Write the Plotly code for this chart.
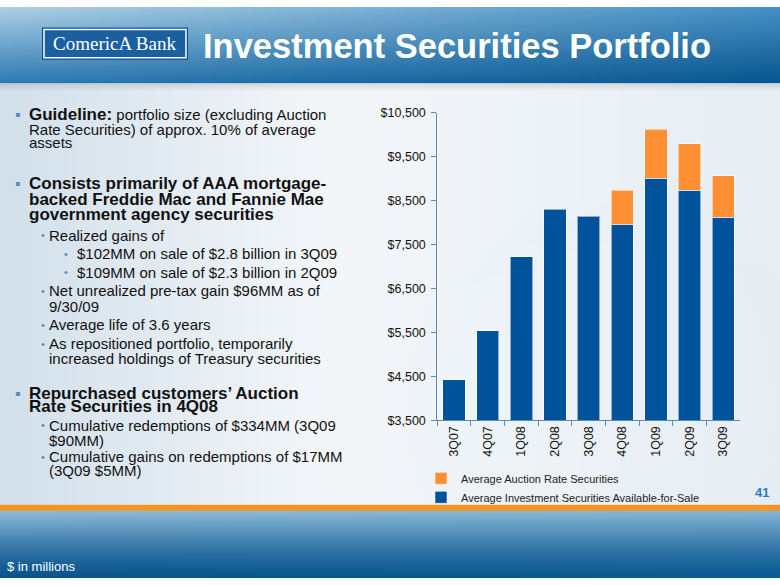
import numpy as np, zlib, struct, base64
import plotly.graph_objects as go

# ---------------- data ----------------
quarters = ["3Q07", "4Q07", "1Q08", "2Q08", "3Q08", "4Q08", "1Q09", "2Q09", "3Q09"]
afs_values = [4420, 5540, 7225, 8300, 8145, 7960, 9010, 8730, 8115]
ars_values = [None, None, None, None, None, 770, 1110, 1060, 955]
y_ticks = [3500, 4500, 5500, 6500, 7500, 8500, 9500, 10500]
y_tick_labels = ["$" + format(v, ",") for v in y_ticks]

W, H = 780, 585

# ---------------- background image (gradients, no text) ----------------
def hexrgb(h):
    h = h.lstrip('#')
    return np.array([int(h[i:i + 2], 16) for i in (0, 2, 4)], dtype=float)

img = np.zeros((H, W, 3), dtype=float)
xs = np.arange(W)[None, :, None] / (W - 1)

# header 0..78 : bilinear corner colours
hh = 78
tl, tr, bl, br = hexrgb('#AED1E6'), hexrgb('#4690C4'), hexrgb('#2E7BB3'), hexrgb('#08568F')
ys = np.arange(hh)[:, None, None] / (hh - 1)
top = tl * (1 - xs) + tr * xs
bot = bl * (1 - xs) + br * xs
img[:hh] = top * (1 - ys) + bot * ys

# content 78..510
c0, c1 = 78, 510
cl, cm, cr = hexrgb('#D2E0EB'), hexrgb('#F4F7FA'), hexrgb('#E6EEF4')
xx = np.arange(W)[None, :, None]
left_part = cl + (cm - cl) * np.clip(xx / 330.0, 0, 1)
right_part = cm + (cr - cm) * np.clip((xx - 330) / 450.0, 0, 1)
row = np.where(xx < 330, left_part, right_part)
img[c0:c1] = row
for i in range(8):
    img[c0 + i] = img[c0 + i] * (0.90 + 0.0125 * i)
yy, xg = np.mgrid[c0:c1, 0:W]
d = np.sqrt((xg - 610.0) ** 2 + (yy - 410.0) ** 2)
ring = np.clip(1 - np.abs(d - 190) / 28.0, 0, 1)[:, :, None]
img[c0:c1] = img[c0:c1] * (1 - 0.05 * ring) + hexrgb('#C9DBE8') * 0.05 * ring

img[510:516] = hexrgb('#F7941D')
f0 = 516
fy = np.arange(H - f0)[:, None, None] / (H - f0 - 1)
ft = hexrgb('#8EBCDA') * (1 - xs) + hexrgb('#86B6D6') * xs
fb = hexrgb('#0A548D') * (1 - xs) + hexrgb('#0B5A93') * xs
img[f0:] = ft * (1 - fy) ** 1.3 + fb * (1 - (1 - fy) ** 1.3)

img8 = np.clip(img, 0, 255).astype(np.uint8)
raw = b''.join(b'\x00' + img8[r].tobytes() for r in range(H))

def chunk(t, dat):
    return struct.pack('>I', len(dat)) + t + dat + struct.pack('>I', zlib.crc32(t + dat) & 0xffffffff)

png = (b'\x89PNG\r\n\x1a\n' + chunk(b'IHDR', struct.pack('>IIBBBBB', W, H, 8, 2, 0, 0, 0))
       + chunk(b'IDAT', zlib.compress(raw, 9)) + chunk(b'IEND', b''))
bg_uri = 'data:image/png;base64,' + base64.b64encode(png).decode()

def px(x):
    return x / W

def py(y):
    return 1 - y / H

# ---------------- figure ----------------
fig = go.Figure()
fig.add_trace(go.Bar(x=quarters, y=afs_values, name="Average Investment Securities Available-for-Sale",
                     marker=dict(color='#00539B', line=dict(color='rgba(255,255,255,0.55)', width=1))))
fig.add_trace(go.Bar(x=quarters, y=ars_values, name="Average Auction Rate Securities",
                     marker=dict(color='#FF8F33', line=dict(color='rgba(255,255,255,0.55)', width=1))))

axis_col = '#5B8CB6'
fig.update_layout(
    width=W, height=H, margin=dict(l=0, r=0, t=0, b=0),
    paper_bgcolor='white', plot_bgcolor='rgba(0,0,0,0)',
    barmode='stack', bargap=0.335,
    font=dict(family='Liberation Sans, Arial, sans-serif', color='#111111'),
    images=[dict(source=bg_uri, xref='paper', yref='paper', x=0, y=1, sizex=1, sizey=1,
                 xanchor='left', yanchor='top', sizing='stretch', layer='below')],
    xaxis=dict(domain=[px(437.3), px(740)], showline=True, linecolor=axis_col, linewidth=1,
               ticks='outside', tickson='boundaries', ticklen=5, tickcolor=axis_col,
               tickangle=-90, tickfont=dict(size=12.5, color='#111'), showgrid=False),
    yaxis=dict(domain=[py(423.3), py(108.3)], range=[3500, 10500], tickvals=y_ticks,
               ticktext=y_tick_labels, showline=True, linecolor=axis_col, linewidth=1,
               ticks='outside', ticklen=5, tickcolor=axis_col, showgrid=False, zeroline=False,
               tickfont=dict(size=12.5, color='#111'), ticklabelstandoff=3),
    legend=dict(x=px(421), y=py(468), xanchor='left', yanchor='top', traceorder='reversed',
                bgcolor='rgba(0,0,0,0)', font=dict(size=11, color='#222'), tracegroupgap=0),
    showlegend=True,
)

# logo box
fig.add_shape(type='rect', xref='paper', yref='paper', x0=px(42), x1=px(188), y0=py(54), y1=py(21),
              fillcolor='#0E4F88', line=dict(width=0), layer='above')
fig.add_shape(type='rect', xref='paper', yref='paper', x0=px(44), x1=px(186), y0=py(52), y1=py(23),
              fillcolor='#1A5F9F', line=dict(color='white', width=1.5), layer='above')

ann = []
def text(x, y, s, size=15, color='#111111', family='Liberation Sans, Arial, sans-serif', anchor='left'):
    ann.append(dict(x=px(x), y=py(y), xref='paper', yref='paper', text=s, showarrow=False,
                    xanchor=anchor, yanchor='middle', align='left', borderpad=0,
                    font=dict(size=size, color=color, family=family)))

text(114, 37.5, 'ComericA Bank', size=19, color='white', family='Liberation Serif, DejaVu Serif, serif', anchor='center')
text(202, 40, '<b>Investment Securities Portfolio</b>', size=34.5, color='white')

bul = '#5A8DC4'
sq_size, main_size, bold_size, sub_size = 16, 15, 17, 15
def main_bullet(y):
    text(14, y, '▪', size=sq_size, color=bul)

main_bullet(110)
text(28, 110, '<b style="font-size:17px">Guideline:</b> portfolio size (excluding Auction', size=main_size)
text(28, 125, 'Rate Securities) of approx. 10% of average', size=main_size)
text(28, 139, 'assets', size=main_size)

main_bullet(180.5)
text(28, 180.5, '<b>Consists primarily of AAA mortgage-</b>', size=bold_size)
text(28, 197, '<b>backed Freddie Mac and Fannie Mae</b>', size=bold_size)
text(28, 213, '<b>government agency securities</b>', size=bold_size)

def sub(y, s, first=True):
    if first:
        text(40, y, '•', size=11, color=bul)
    text(48, y, s, size=sub_size)

def subsub(y, s):
    text(63, y, '•', size=11, color=bul)
    text(76, y, s, size=sub_size)

sub(234, 'Realized gains of')
subsub(253, '$102MM on sale of $2.8 billion in 3Q09')
subsub(271.5, '$109MM on sale of $2.3 billion in 2Q09')
sub(290.5, 'Net unrealized pre-tax gain $96MM as of')
sub(306.5, '9/30/09', first=False)
sub(325.5, 'Average life of 3.6 years')
sub(345, 'As repositioned portfolio, temporarily')
sub(360.5, 'increased holdings of Treasury securities', first=False)

main_bullet(395.5)
text(28, 395.5, '<b>Repurchased customers’ Auction</b>', size=bold_size)
text(28, 409.5, '<b>Rate Securities in 4Q08</b>', size=bold_size)
sub(428.5, 'Cumulative redemptions of $334MM (3Q09')
sub(444, '$90MM)', first=False)
sub(461, 'Cumulative gains on redemptions of $17MM')
sub(474.5, '(3Q09 $5MM)', first=False)

text(762, 497, '<b>41</b>', size=13, color='#2B7BBE', anchor='center')
text(6, 573, '$ in millions', size=13, color='white')

fig.update_layout(annotations=ann)
fig.write_html('out.html')
